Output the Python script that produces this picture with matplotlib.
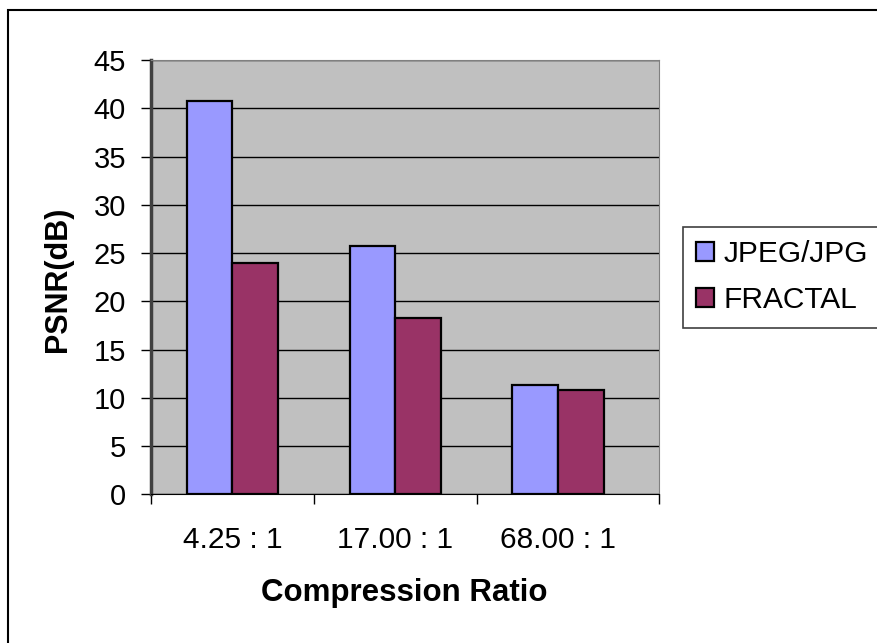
import numpy as np
import matplotlib.pyplot as plt
from matplotlib.patches import Rectangle

# data
categories = ['4.25 : 1', '17.00 : 1', '68.00 : 1']
jpeg = [40.8, 25.7, 11.3]
fractal = [24.0, 18.25, 10.8]
series_names = ['JPEG/JPG', 'FRACTAL']
y_ticks = [0, 5, 10, 15, 20, 25, 30, 35, 40, 45]

plt.rcParams['font.family'] = ['Liberation Sans', 'DejaVu Sans']

W, H = 878, 643
fig = plt.figure(figsize=(W / 100, H / 100), dpi=100)
ax = fig.add_axes([151 / W, 1 - 494.3 / H, 508 / W, 434.3 / H])
ax.set_facecolor('#C0C0C0')

x = np.arange(len(categories))
w = 0.28
ax.bar(x - w, jpeg, w, align='edge', color='#9999FF', edgecolor='black',
       linewidth=1.6, label=series_names[0], zorder=3)
ax.bar(x, fractal, w, align='edge', color='#993366', edgecolor='black',
       linewidth=1.6, label=series_names[1], zorder=3)

ax.set_ylim(0, 45)
ax.set_xlim(-0.5, 2.62)
ax.set_yticks(y_ticks)
ax.yaxis.grid(True, color='black', linewidth=1.0, zorder=1)
ax.set_axisbelow(True)

ax.set_xticks(x)
ax.set_xticklabels(categories)
ax.set_xticks([-0.5, 0.5, 1.5, 2.62], minor=True)
ax.tick_params(axis='x', which='major', length=0, pad=23, labelsize=21.5)
ax.tick_params(axis='x', which='minor', length=7, width=1, direction='out')
ax.tick_params(axis='y', length=7, width=1, pad=11, labelsize=21)

ax.spines['left'].set_color('#404040')
ax.spines['left'].set_linewidth(2.5)
ax.spines['top'].set_color('#808080')
ax.spines['right'].set_color('#808080')
ax.spines['bottom'].set_color('black')

fig.text(404 / W, 1 - 593 / H, 'Compression Ratio', ha='center', va='center',
         fontsize=22.5, fontweight='bold')
fig.text(58 / W, 1 - 279 / H, 'PSNR(dB)', ha='center', va='center',
         rotation=90, fontsize=22, fontweight='bold')

leg = fig.legend(loc='upper left', bbox_to_anchor=(683 / W, 1 - 227 / H),
                 fontsize=21.5, frameon=True, fancybox=False, framealpha=1,
                 edgecolor='#404040', handlelength=0.6, handleheight=0.6,
                 handletextpad=0.3, labelspacing=0.6, borderpad=0.45,
                 borderaxespad=0)
leg.get_frame().set_linewidth(1.2)

# outer chart border
fig.patches.append(Rectangle((8 / W, -0.05), 1.0, 1 - 10 / H + 0.05,
                             transform=fig.transFigure, fill=False,
                             edgecolor='black', linewidth=1.5))

fig.savefig('out.png', dpi=100)
